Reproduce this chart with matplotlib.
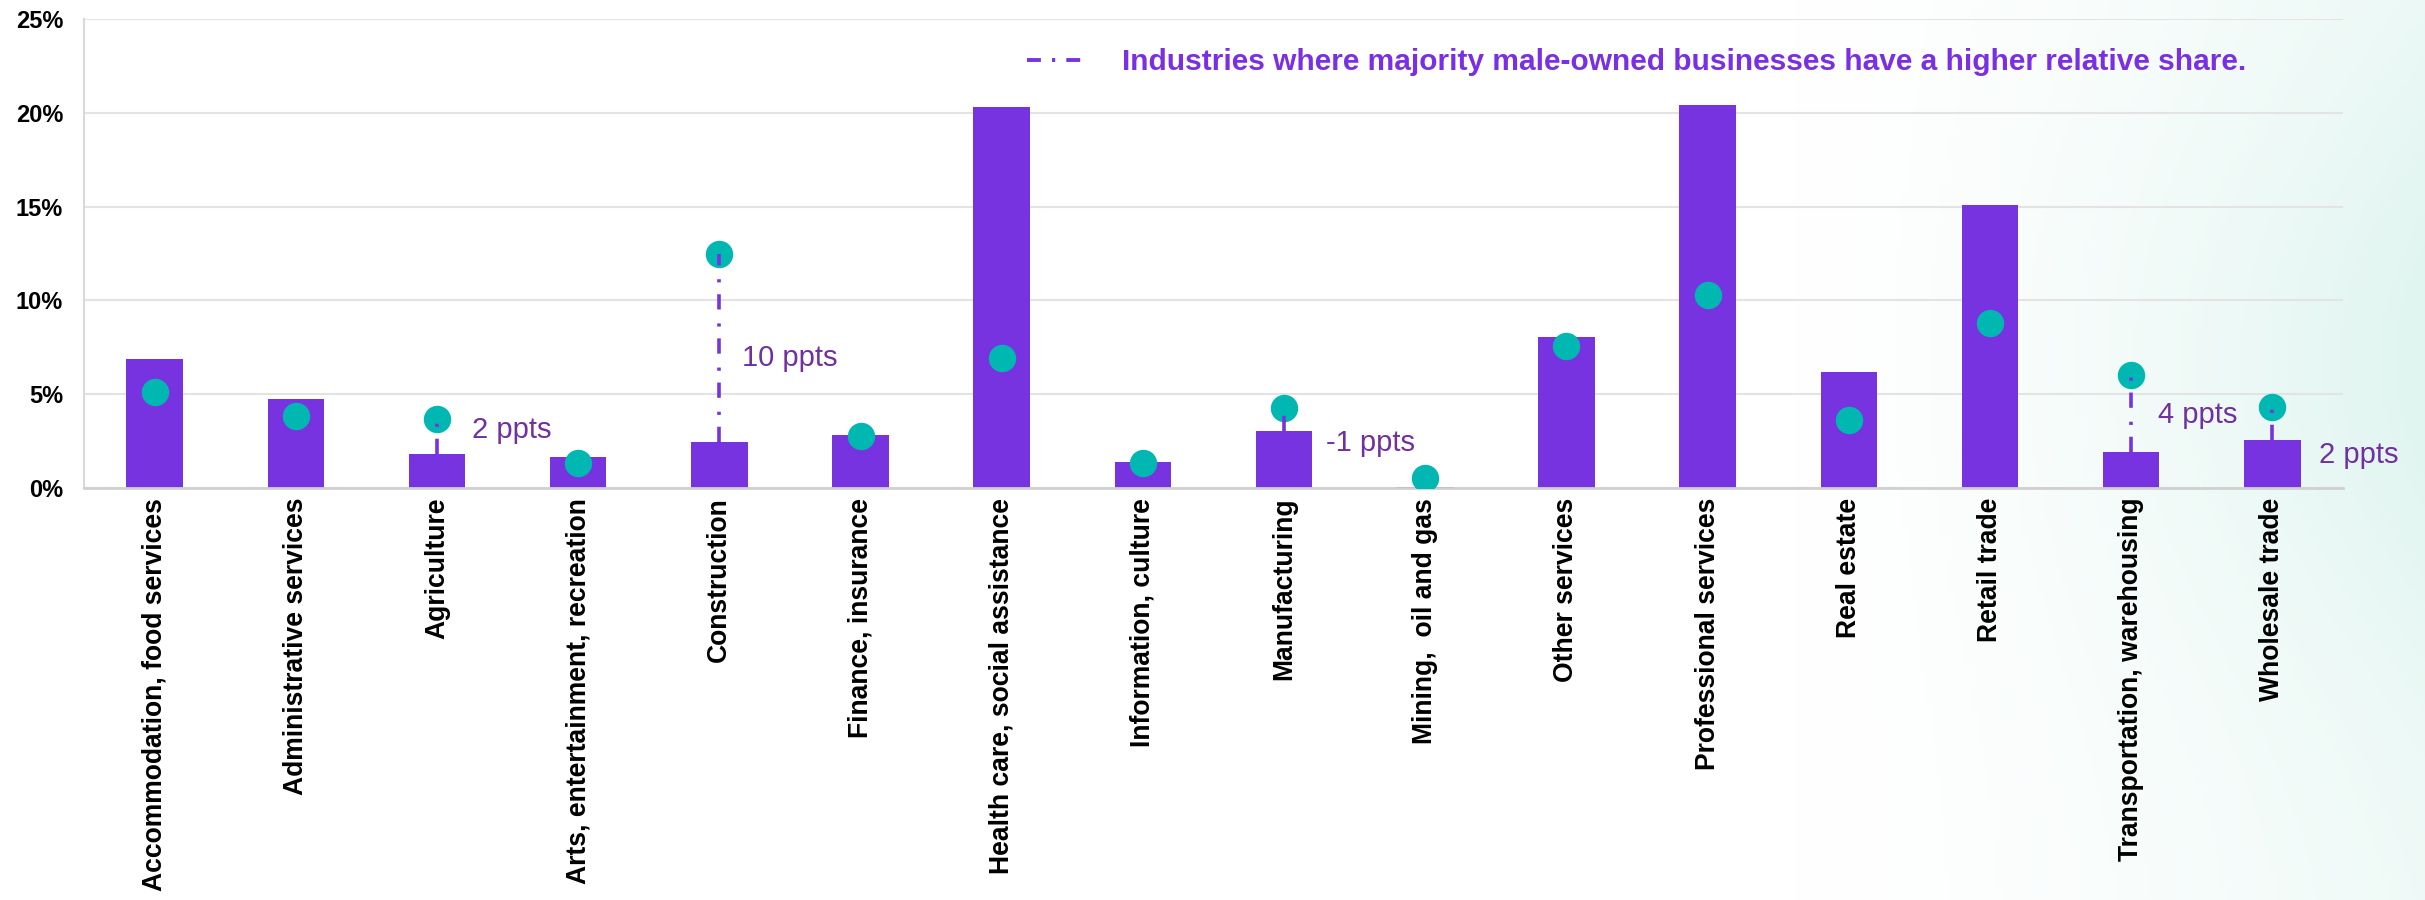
import matplotlib
matplotlib.use("Agg")
import matplotlib.pyplot as plt
from matplotlib.lines import Line2D
from matplotlib.ticker import FuncFormatter
import numpy as np

plt.rcParams['font.family'] = ['Liberation Sans', 'DejaVu Sans']
plt.rcParams['lines.scale_dashes'] = False

categories = ["Accommodation, food services", "Administrative services", "Agriculture",
              "Arts, entertainment, recreation", "Construction", "Finance, insurance",
              "Health care, social assistance", "Information, culture", "Manufacturing",
              "Mining,  oil and gas", "Other services", "Professional services",
              "Real estate", "Retail trade", "Transportation, warehousing", "Wholesale trade"]
bar_values = [6.88, 4.74, 1.80, 1.65, 2.45, 2.83, 20.32, 1.39, 3.02, 0.07,
              8.07, 20.44, 6.20, 15.09, 1.92, 2.54]
dot_values = [5.10, 3.84, 3.70, 1.35, 12.46, 2.77, 6.92, 1.32, 4.27, 0.55,
              7.59, 10.28, 3.64, 8.82, 6.04, 4.34]
gap_industries = ["Agriculture", "Construction", "Manufacturing",
                  "Transportation, warehousing", "Wholesale trade"]
gap_labels = ["2 ppts", "10 ppts", "-1 ppts", "4 ppts", "2 ppts"]
legend_text = "Industries where majority male-owned businesses have a higher relative share."

# where the ppts labels sit: (offset right of bar centre in category units, height in %)
label_pos = [(0.25, 3.1), (0.16, 6.93), (0.30, 2.4), (0.19, 3.9), (0.33, 1.76)]

BAR = "#7733E0"
DOT = "#00B8B1"
NOTE = "#7030A0"
dash_dot = (0, (11, 8.5, 2.3, 10))

fig = plt.figure(figsize=(24.25, 9), dpi=100)

# soft mint wash on the right side
bg = fig.add_axes([0, 0, 1, 1], zorder=-10)
xx, yy = np.meshgrid(np.linspace(0, 1, 500), np.linspace(0, 1, 200))
alpha = np.clip((xx - 0.74) / 0.26, 0, 1) ** 1.5
alpha *= 0.5 + 0.5 * np.exp(-((yy - 0.4) / 0.35) ** 2)
img = np.ones((200, 500, 4))
img[..., 0] = 1 - alpha * (1 - 224 / 255)
img[..., 1] = 1 - alpha * (1 - 245 / 255)
img[..., 2] = 1 - alpha * (1 - 240 / 255)
bg.imshow(img, aspect='auto', extent=[0, 1, 0, 1], origin='upper')
bg.axis('off')

ax = fig.add_axes([84 / 2425, 1 - 488 / 900, (2343 - 84) / 2425, (488 - 19) / 900])
ax.set_facecolor('none')
x = np.arange(len(categories))

ax.bar(x, bar_values, width=0.4, color=BAR, zorder=2)
ax.scatter(x, dot_values, s=390, color=DOT, zorder=3, linewidths=0)

for name, lab, (dx, ly) in zip(gap_industries, gap_labels, label_pos):
    i = categories.index(name)
    ax.plot([i, i], [bar_values[i], dot_values[i]], color=BAR, lw=2.6,
            linestyle=dash_dot, solid_capstyle='butt', dash_capstyle='butt', zorder=4)
    ax.text(i + dx, ly, lab, color=NOTE, fontsize=21, ha='left', va='center',
            clip_on=False, zorder=5)

ax.set_xlim(-0.5, len(categories) - 0.5)
ax.set_ylim(0, 25)
ax.set_yticks(np.arange(0, 26, 5))
ax.yaxis.set_major_formatter(FuncFormatter(lambda v, p: f"{v:.0f}%"))
ax.set_xticks(x)
ax.set_xticklabels(categories, rotation=90, fontsize=19.1, fontweight='bold', va='top')
for t in ax.get_yticklabels():
    t.set_fontweight('bold')
    t.set_fontsize(17)
ax.tick_params(axis='y', length=0, pad=15)
ax.tick_params(axis='x', length=0, pad=7)

ax.grid(axis='y', color='#E3E3E3', lw=1.5, zorder=0)
ax.set_axisbelow(True)
for s in ['top', 'right']:
    ax.spines[s].set_visible(False)
ax.spines['left'].set_color('#D9D9D9')
ax.spines['left'].set_linewidth(1.5)
ax.spines['bottom'].set_color('#D0D0D0')
ax.spines['bottom'].set_linewidth(2)

handle = Line2D([], [], color=BAR, lw=2.8, linestyle=(0, (10, 8, 2.3, 8)))
leg = ax.legend([handle], [legend_text], loc='center left',
                bbox_to_anchor=(1000 / 2425, 1 - 62 / 900), bbox_transform=fig.transFigure,
                frameon=False, handlelength=2.1, handletextpad=1.1,
                prop={'size': 21.5, 'weight': 'bold'})
for t in leg.get_texts():
    t.set_color('#7B2FE3')

plt.savefig('out.png', dpi=100)
